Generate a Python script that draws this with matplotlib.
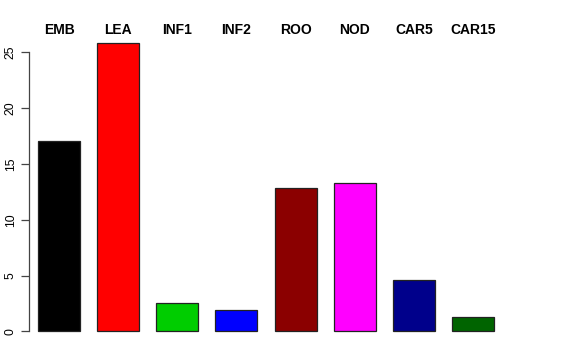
import matplotlib
matplotlib.use("Agg")
import matplotlib.pyplot as plt
import matplotlib.transforms as mtransforms

categories = ["EMB", "LEA", "INF1", "INF2", "ROO", "NOD", "CAR5", "CAR15"]
values = [17.09, 25.87, 2.58, 1.88, 12.82, 13.32, 4.59, 1.26]
colors = ["#000000", "#FF0000", "#00CD00", "#0000FF", "#8B0000", "#FF00FF", "#00008B", "#006400"]
yticks = [0, 5, 10, 15, 20, 25]

plt.rcParams['font.family'] = ['Liberation Sans', 'DejaVu Sans']

W, H = 576, 360
fig = plt.figure(figsize=(W / 100, H / 100), dpi=100)
left_px, right_px = 29, 503
bottom_px, top_px = 343, 31.2
ax = fig.add_axes([left_px / W, 1 - bottom_px / H, (right_px - left_px) / W, (bottom_px - top_px) / H])

x = list(range(len(categories)))
ax.bar(x, values, width=0.71, color=colors, edgecolor="#222222", linewidth=0.9)
ax.set_xlim(-0.508, 7.508)
ax.set_ylim(-1.035, 26.9)

for s in ["top", "right", "bottom"]:
    ax.spines[s].set_visible(False)
ax.spines["left"].set_bounds(0, 25)
ax.spines["left"].set_color("#444444")
ax.spines["left"].set_linewidth(0.9)
ax.set_xticks([])
ax.set_yticks(yticks)
ax.set_yticklabels([str(t) for t in yticks], rotation=90, va="center", fontsize=8.8)
ax.tick_params(axis="y", length=5.8, width=0.9, color="#444444", pad=3)

trans = mtransforms.blended_transform_factory(ax.transData, fig.transFigure)
for xi, lab in zip(x, categories):
    ax.text(xi, 1 - 29.5 / H, lab, transform=trans,
            ha="center", va="center", fontsize=10, fontweight="bold")

fig.savefig("out.png", dpi=100)
